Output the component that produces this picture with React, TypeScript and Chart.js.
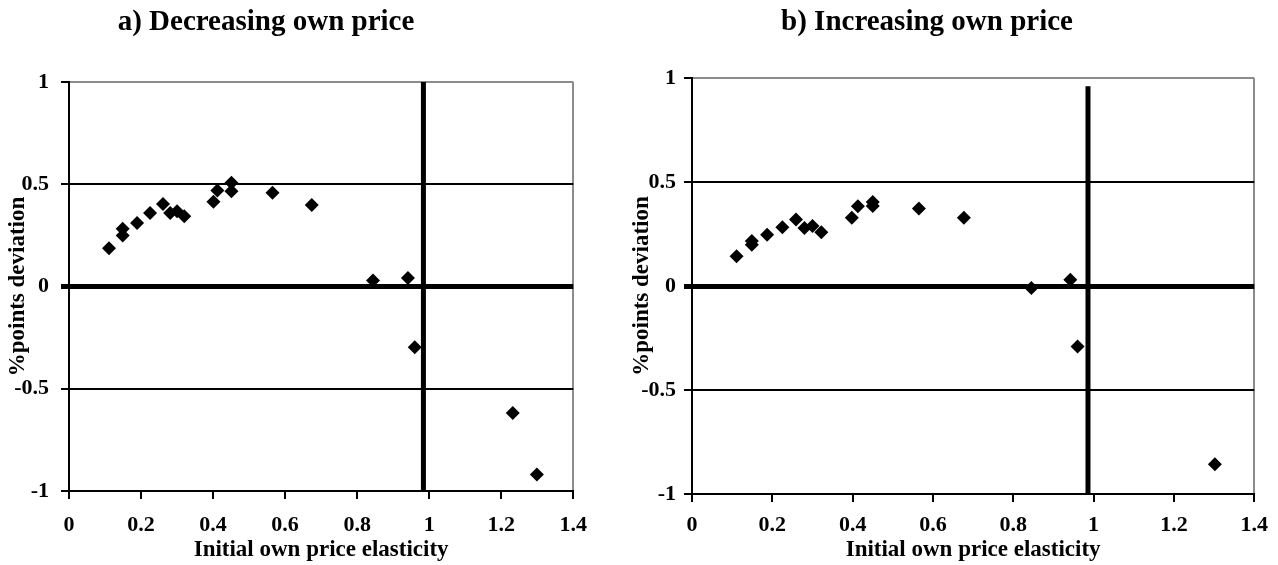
import React, { useEffect, useRef } from "react";
import { Chart, registerables } from "chart.js";

Chart.register(...registerables);

const FONT = "'Liberation Serif', 'Times New Roman', Times, serif";
const GRAY = "#8c8c8c";

// ---- tick values / labels ----
const xTicks = [0, 0.2, 0.4, 0.6, 0.8, 1, 1.2, 1.4];
const xTickLabels = ["0", "0.2", "0.4", "0.6", "0.8", "1", "1.2", "1.4"];
const yTicks = [-1, -0.5, 0, 0.5, 1];
const yTickLabels = ["-1", "-0.5", "0", "0.5", "1"];

// ---- text ----
const titleA = "a) Decreasing own price";
const titleB = "b) Increasing own price";
const xAxisTitle = "Initial own price elasticity";
const yAxisTitle = "%points deviation";

// ---- panel a) Decreasing own price ----
const elasticityA = [0.111, 0.149, 0.149, 0.189, 0.225, 0.261, 0.281, 0.3, 0.32, 0.401, 0.412, 0.451, 0.451, 0.565, 0.674, 0.844, 0.941, 0.96, 1.232, 1.299];
const deviationA = [0.187, 0.282, 0.249, 0.311, 0.359, 0.404, 0.359, 0.368, 0.344, 0.414, 0.469, 0.507, 0.466, 0.458, 0.399, 0.029, 0.041, -0.297, -0.619, -0.919];
const refLineXA = [0.984, 0.984];
const refLineYA = [1, -1];

// ---- panel b) Increasing own price ----
const elasticityB = [0.111, 0.149, 0.149, 0.187, 0.225, 0.259, 0.28, 0.3, 0.322, 0.398, 0.413, 0.45, 0.45, 0.565, 0.677, 0.845, 0.942, 0.96, 1.302];
const deviationB = [0.143, 0.216, 0.198, 0.246, 0.283, 0.32, 0.279, 0.288, 0.259, 0.328, 0.383, 0.404, 0.385, 0.372, 0.328, -0.01, 0.03, -0.291, -0.857];
const refLineXB = [0.986, 0.986];
const refLineYB = [0.96, -1];

type Layout = {
  left: number;
  width: number;
  height: number;
  yAxisWidth: number;
  padRight: number;
  titleBottom: number;
  xAxisHeight: number;
  yTickPad: number;
  xTickPad: number;
  yTitlePad: number;
  xTitlePadBottom: number;
};

type PanelProps = {
  title: string;
  xs: number[];
  ys: number[];
  refXs: number[];
  refYs: number[];
  layout: Layout;
};

function Panel({ title, xs, ys, refXs, refYs, layout }: PanelProps) {
  const ref = useRef<HTMLCanvasElement>(null);

  useEffect(() => {
    if (!ref.current) return;
    const tickFont = { family: FONT, size: 22, weight: "bold" as const };
    const axisTitleFont = { family: FONT, size: 23, weight: "bold" as const };
    const chart = new Chart(ref.current, {
      type: "scatter",
      data: {
        datasets: [
          {
            data: xs.map((x, i) => ({ x, y: ys[i] })),
            pointStyle: "rectRot",
            pointRadius: 7,
            pointHoverRadius: 7,
            backgroundColor: "#000",
            borderColor: "#000",
            borderWidth: 0,
            order: 0,
          },
          {
            data: refXs.map((x, i) => ({ x, y: refYs[i] })),
            showLine: true,
            borderColor: "#000",
            borderWidth: 5,
            pointRadius: 0,
            pointHoverRadius: 0,
            fill: false,
            order: 1,
          } as any,
        ],
      },
      options: {
        responsive: false,
        animation: false,
        devicePixelRatio: 1,
        layout: { padding: { left: 0, right: layout.padRight, top: 0, bottom: 0 } },
        plugins: {
          legend: { display: false },
          tooltip: { enabled: false },
          title: {
            display: true,
            text: title,
            color: "#000",
            font: { family: FONT, size: 29, weight: "bold" },
            padding: { top: 5, bottom: layout.titleBottom },
          },
        },
        scales: {
          x: {
            type: "linear",
            min: 0,
            max: 1.4,
            afterBuildTicks: (s: any) => {
              s.ticks = xTicks.map((v) => ({ value: v }));
            },
            afterFit: (s: any) => {
              s.height = layout.xAxisHeight;
            },
            ticks: {
              autoSkip: false,
              maxRotation: 0,
              color: "#000",
              font: tickFont,
              padding: layout.xTickPad,
              callback: (v: any) => {
                const i = xTicks.findIndex((t) => Math.abs(t - Number(v)) < 1e-9);
                return i >= 0 ? xTickLabels[i] : "";
              },
            },
            grid: {
              drawOnChartArea: true,
              color: (ctx: any) => (ctx.tick && Math.abs(ctx.tick.value - 1.4) < 1e-9 ? GRAY : "rgba(0,0,0,0)"),
              lineWidth: 2,
              tickColor: "#000",
              tickWidth: 2,
              tickLength: 8,
            },
            border: { display: true, color: "#000", width: 2 },
            title: {
              display: true,
              text: xAxisTitle,
              color: "#000",
              font: axisTitleFont,
              padding: { top: 0, bottom: layout.xTitlePadBottom },
            },
          },
          y: {
            type: "linear",
            min: -1,
            max: 1,
            afterBuildTicks: (s: any) => {
              s.ticks = yTicks.map((v) => ({ value: v }));
            },
            afterFit: (s: any) => {
              s.width = layout.yAxisWidth;
            },
            ticks: {
              color: "#000",
              font: tickFont,
              padding: layout.yTickPad,
              callback: (v: any) => {
                const i = yTicks.findIndex((t) => Math.abs(t - Number(v)) < 1e-9);
                return i >= 0 ? yTickLabels[i] : "";
              },
            },
            grid: {
              color: (ctx: any) => (ctx.tick && ctx.tick.value === 1 ? GRAY : "#000"),
              lineWidth: (ctx: any) => (ctx.tick && ctx.tick.value === 0 ? 5 : 2),
              tickColor: "#000",
              tickLength: 8,
            },
            border: { display: true, color: "#000", width: 2 },
            title: {
              display: true,
              text: yAxisTitle,
              color: "#000",
              font: axisTitleFont,
              padding: layout.yTitlePad,
            },
          },
        },
      },
    });
    return () => chart.destroy();
  }, []);

  return (
    <canvas
      ref={ref}
      width={layout.width}
      height={layout.height}
      style={{
        position: "absolute",
        left: layout.left,
        top: 0,
        width: layout.width,
        height: layout.height,
      }}
    />
  );
}

const layoutA: Layout = {
  left: -49,
  width: 649,
  height: 565,
  yAxisWidth: 118,
  padRight: 19,
  titleBottom: 42.2,
  xAxisHeight: 74,
  yTickPad: 12,
  xTickPad: 13,
  yTitlePad: 53,
  xTitlePadBottom: 1,
};

const layoutB: Layout = {
  left: 595,
  width: 683,
  height: 565,
  yAxisWidth: 97,
  padRight: 19,
  titleBottom: 38.2,
  xAxisHeight: 71,
  yTickPad: 8,
  xTickPad: 10,
  yTitlePad: 33,
  xTitlePadBottom: 1,
};

export default function App() {
  return (
    <div
      style={{
        position: "absolute",
        left: 0,
        top: 0,
        width: 1278,
        height: 565,
        overflow: "hidden",
        background: "#fff",
      }}
    >
      <Panel title={titleA} xs={elasticityA} ys={deviationA} refXs={refLineXA} refYs={refLineYA} layout={layoutA} />
      <Panel title={titleB} xs={elasticityB} ys={deviationB} refXs={refLineXB} refYs={refLineYB} layout={layoutB} />
    </div>
  );
}
